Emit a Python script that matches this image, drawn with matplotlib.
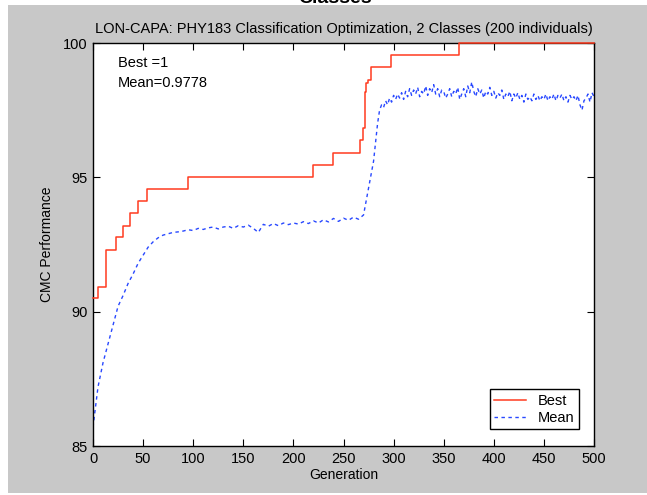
import matplotlib
matplotlib.use("Agg")
import matplotlib.pyplot as plt
from matplotlib.patches import Rectangle

plt.rcParams['font.family'] = ['Liberation Sans', 'DejaVu Sans']

# Best performance: step change points (generation, value)
best_gen = [0, 5, 13, 23, 30, 37, 45, 54, 95, 220, 240, 266, 269, 271.5, 272.5, 274, 277, 297, 365, 500]
best_val = [90.5, 90.92, 92.28, 92.77, 93.2, 93.66, 94.12, 94.55, 95.0, 95.46, 95.92, 96.39,
            96.82, 98.19, 98.5, 98.62, 99.12, 99.55, 100.0, 100.0]

# Mean performance: every 5 generations up to 275, then every 2 generations
mean_gen = list(range(0, 280, 5)) + list(range(280, 501, 2))
mean_val = [85.7, 87.2, 88.1, 88.8, 89.5, 90.2, 90.6, 91.05, 91.4, 91.8,
            92.1, 92.4, 92.6, 92.75, 92.85, 92.9, 92.95, 92.97, 93.0, 93.05,
            93.02, 93.1, 93.06, 93.12, 93.15, 93.08, 93.15, 93.18, 93.1, 93.2,
            93.15, 93.22, 93.1, 92.95, 93.25, 93.18, 93.28, 93.2, 93.3, 93.24,
            93.3, 93.26, 93.35, 93.28, 93.38, 93.3, 93.42, 93.34, 93.47, 93.36,
            93.48, 93.4, 93.52, 93.44, 93.6, 94.6,
            # 280 .. 298
            95.6, 96.3, 97.0, 97.5, 97.7, 97.6, 97.85, 97.7, 97.95, 97.8,
            # 300 .. 318
            98.05, 97.9, 98.1, 97.95, 98.15, 97.9, 98.2, 98.0, 98.3, 98.05,
            # 320 .. 338
            98.25, 98.1, 98.35, 98.0, 98.2, 98.1, 98.4, 98.05, 98.3, 98.15,
            # 340 .. 358
            98.45, 98.1, 98.3, 98.0, 98.25, 98.2, 97.95, 98.1, 98.3, 98.0,
            # 360 .. 378
            98.2, 98.1, 98.35, 97.9, 98.1, 98.3, 98.0, 98.4, 98.15, 98.55,
            # 380 .. 398
            98.2, 98.0, 98.3, 98.1, 98.25, 97.95, 98.2, 98.1, 98.35, 98.05,
            # 400 .. 418
            98.2, 97.95, 98.15, 98.05, 98.25, 97.9, 98.1, 98.0, 98.2, 97.85,
            # 420 .. 438
            98.1, 97.95, 98.15, 97.9, 98.05, 97.8, 98.1, 97.9, 98.0, 97.85,
            # 440 .. 458
            98.1, 97.9, 98.05, 97.85, 98.0, 97.9, 98.1, 97.85, 98.0, 97.9,
            # 460 .. 478
            98.1, 97.85, 98.05, 97.95, 98.1, 97.85, 98.0, 97.8, 98.05, 97.9,
            # 480 .. 498
            98.0, 97.85, 98.05, 97.7, 97.5, 97.85, 97.95, 98.1, 97.8, 98.15,
            # 500
            98.0]

title = "LON-CAPA: PHY183 Classification Optimization, 2 Classes (200 individuals)"
xticks = [0, 50, 100, 150, 200, 250, 300, 350, 400, 450, 500]
yticks = [85, 90, 95, 100]

fig = plt.figure(figsize=(6.47, 4.95), dpi=100, facecolor='white')
fig.patches.append(Rectangle((8/647, 2/495), 1 - 8/647, 1 - 7/495, transform=fig.transFigure,
                             facecolor='#c8c8c8', edgecolor='none', zorder=-10))
fig.text(335/647, 1 - 2.7/495, "Classes", ha='center', va='baseline', fontsize=14,
         fontweight='bold', color='black')

ax = fig.add_axes([93/647, 49/495, 501/647, 403/495])
ax.set_facecolor('white')

ax.plot(best_gen, best_val, drawstyle='steps-post', color='#ff3b1f', lw=1.1, label='Best',
        clip_on=False, zorder=3)
ax.plot(mean_gen, mean_val, color='#2848ff', lw=1.0, ls=(0, (2.5, 2.5)), label='Mean')

ax.set_xlim(0, 500)
ax.set_ylim(85, 100)
ax.set_xticks(xticks)
ax.set_yticks(yticks)
ax.tick_params(direction='in', top=True, right=True, length=5, labelsize=10.5, pad=4)
for s in ax.spines.values():
    s.set_linewidth(1.0)

ax.set_title(title, fontsize=10.5, pad=7)
ax.set_xlabel("Generation", fontsize=10, labelpad=2)
ax.set_ylabel("CMC Performance", fontsize=10, labelpad=6)

ax.text(24.9, 99.26, "Best =1", fontsize=10.5, va='center', ha='left')
ax.text(24.9, 98.51, "Mean=0.9778", fontsize=10.5, va='center', ha='left')

leg = ax.legend(loc='lower left', bbox_to_anchor=(0.792, 0.042), borderaxespad=0,
                fancybox=False, edgecolor='black', framealpha=1, fontsize=10.5,
                handlelength=2.2, handletextpad=0.8, borderpad=0.3, labelspacing=0.2)
leg.get_frame().set_linewidth(1.0)

fig.savefig("out.png", dpi=100, facecolor=fig.get_facecolor())
